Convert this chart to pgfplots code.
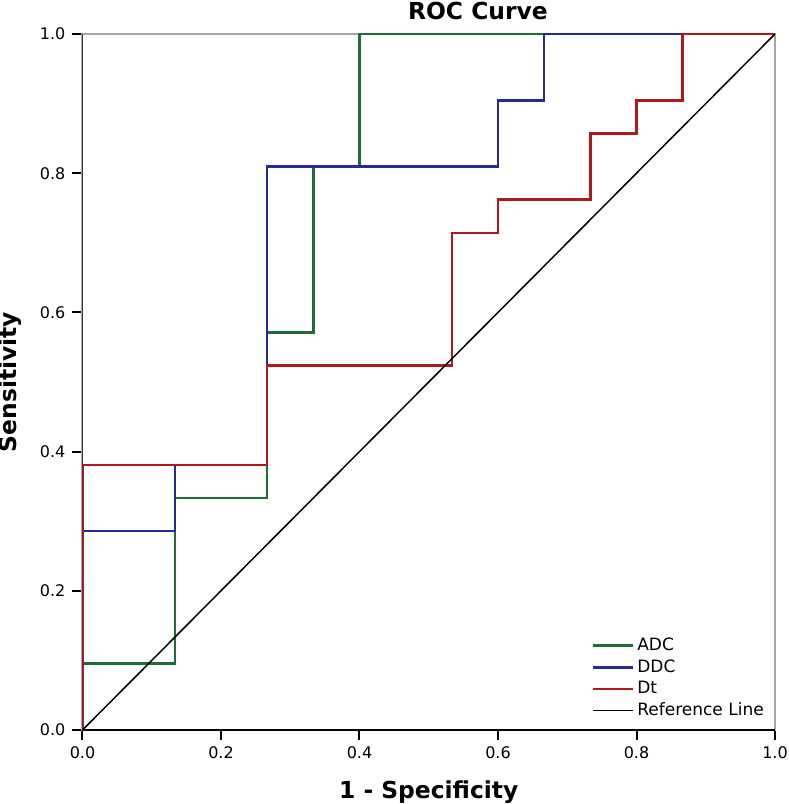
\documentclass[border=0pt]{standalone}
\usepackage{fontspec}
\setmainfont{DejaVu Sans}
\usepackage{pgfplots}
\pgfplotsset{compat=1.18}
\definecolor{cadc}{RGB}{30,108,55}
\definecolor{cddc}{RGB}{40,40,150}
\definecolor{cdt}{RGB}{175,25,30}
\begin{document}
\begin{tikzpicture}
\begin{axis}[
  scale only axis,
  width=346.25pt, height=348pt,
  xmin=0, xmax=1, ymin=0, ymax=1,
  xtick={0,0.2,0.4,0.6,0.8,1},
  ytick={0,0.2,0.4,0.6,0.8,1},
  xtick pos=bottom, ytick pos=left,
  tick align=outside,
  major tick length=5pt,
  tick style={black, line width=1pt},
  /pgf/number format/assume math mode=true,
  xticklabel style={/pgf/number format/.cd, fixed, fixed zerofill, precision=1},
  yticklabel style={/pgf/number format/.cd, fixed, fixed zerofill, precision=1},
  ticklabel style={font=\fontsize{8}{9.6}\selectfont},
  axis line style={draw=gray!70, line width=1pt},
  every axis title shift=0pt,
  title={ROC Curve},
  title style={font=\fontsize{11.7}{14}\selectfont\bfseries, at={([yshift=7.25pt]rel axis cs:0.571,1)}, anchor=base},
  xlabel={1 - Specificity},
  xlabel style={font=\fontsize{11.7}{14}\selectfont\bfseries, at={([yshift=-34pt]rel axis cs:0.5,0)}, anchor=base},
  ylabel={Sensitivity},
  ylabel style={font=\fontsize{11.7}{14}\selectfont\bfseries, at={([xshift=-32.75pt]rel axis cs:0,0.5)}, anchor=base, rotate=0},
  legend cell align=left,
  legend style={draw=none, fill=none, inner sep=0pt,
    font=\fontsize{8.5}{10}\selectfont,
    at={(rel axis cs:0.9884,0.0118)}, anchor=south east,
    nodes={text height=6.5pt, text depth=1.5pt, inner sep=1.4pt}},
  legend image code/.code={\draw[#1] (0pt,0pt) -- (20pt,0pt);},
]
\coordinate (bl) at (rel axis cs:0,0);
\coordinate (tr) at (rel axis cs:1,1);
\draw[black, line width=1pt] (rel axis cs:0,1) -- (rel axis cs:0,0) -- (rel axis cs:1,0);
\addplot[cadc, line width=1.3pt] coordinates {
 (0,0) (0,0.0952) (0.1333,0.0952) (0.1333,0.3333) (0.2667,0.3333) (0.2667,0.5714)
 (0.3333,0.5714) (0.3333,0.8095) (0.4,0.8095) (0.4,1) (1,1)};
\addlegendentry{ADC}
\addplot[cddc, line width=1.3pt] coordinates {
 (0,0) (0,0.2857) (0.1333,0.2857) (0.1333,0.3810) (0.2667,0.3810) (0.2667,0.8095)
 (0.6,0.8095) (0.6,0.9048) (0.6667,0.9048) (0.6667,1) (1,1)};
\addlegendentry{DDC}
\addplot[cdt, line width=1.3pt] coordinates {
 (0,0) (0,0.3810) (0.2667,0.3810) (0.2667,0.5238) (0.5333,0.5238) (0.5333,0.7143)
 (0.6,0.7143) (0.6,0.7619) (0.7333,0.7619) (0.7333,0.8571) (0.8,0.8571)
 (0.8,0.9048) (0.8667,0.9048) (0.8667,1) (1,1)};
\addlegendentry{Dt}
\addplot[black, line width=0.75pt] coordinates {(0,0) (1,1)};
\addlegendentry{Reference Line}
\end{axis}
\pgfresetboundingbox
\path ([shift={(-41.25pt,-37pt)}]bl) rectangle ([shift={(6.5pt,17pt)}]tr);
\end{tikzpicture}
\end{document}
